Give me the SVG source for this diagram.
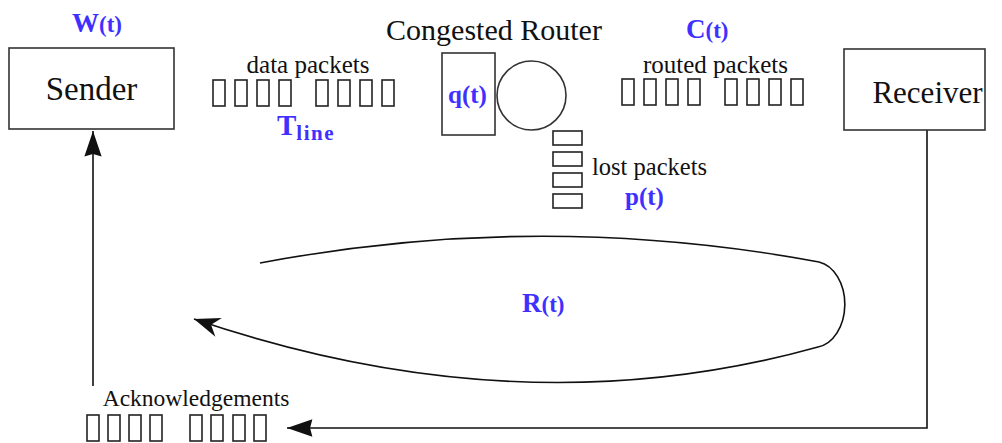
<svg xmlns="http://www.w3.org/2000/svg" xmlns:xlink="http://www.w3.org/1999/xlink" width="1002" height="443" viewBox="0 0 1002 443">
<style>
  .box{fill:#fff;stroke:#333;stroke-width:1.6}
  .tofu{fill:none;stroke:#222;stroke-width:1.6}
  .lbl{font-family:'Liberation Serif','Times New Roman','DejaVu Serif',serif;fill:#111}
  .var{font-family:'Liberation Serif','Times New Roman','DejaVu Serif',serif;font-weight:bold;fill:#4030ff}
  .line{fill:none;stroke:#111;stroke-width:1.6}
</style>
<defs>
  <rect id="t" class="tofu" x="0" y="0" width="12" height="26"/>
  <marker id="notch" markerUnits="userSpaceOnUse" markerWidth="30" markerHeight="30" viewBox="-27 -12 30 24" refX="0" refY="0" orient="auto">
    <path d="M0,0 L-26,-10 L-18,0 L-26,10 Z" fill="#111"/>
  </marker>
  <marker id="tri" markerUnits="userSpaceOnUse" markerWidth="30" markerHeight="30" viewBox="-24 -10 26 20" refX="0" refY="0" orient="auto">
    <path d="M0,0 L-22,-7.5 L-20,0 L-22,7.5 Z" fill="#111"/>
  </marker>
</defs>

<g id="connectors">
  <path class="line" d="M93,386 L93,131" marker-end="url(#tri)"/>
  <path class="line" d="M927,130 L927,428 L287,428" marker-end="url(#tri)"/>
  <path class="line" d="M260,263 Q540,210 819,262 A31 43 0 0 1 818,347 Q520,430 194,319" marker-end="url(#notch)"/>
</g>

<g id="sender">
  <rect class="box" x="9" y="48" width="165" height="81"/>
  <text class="lbl" x="91.5" y="100" font-size="33" text-anchor="middle">Sender</text>
  <text class="var" x="72" y="32"><tspan font-size="27">W</tspan><tspan font-size="23">(t)</tspan></text>
</g>

<g id="receiver">
  <rect class="box" x="844" y="49" width="141" height="81"/>
  <text class="lbl" x="927.5" y="103" font-size="31" text-anchor="middle">Receiver</text>
</g>

<g id="data-packets">
  <text class="lbl" x="308" y="73" font-size="25" text-anchor="middle">data packets</text>
  <use xlink:href="#t" x="213" y="80"/><use xlink:href="#t" x="235" y="80"/><use xlink:href="#t" x="257" y="80"/><use xlink:href="#t" x="279" y="80"/>
  <use xlink:href="#t" x="316" y="80"/><use xlink:href="#t" x="338" y="80"/><use xlink:href="#t" x="360" y="80"/><use xlink:href="#t" x="382" y="80"/>
  <text class="var" x="277" y="135"><tspan font-size="29">T</tspan><tspan font-size="21" dy="5" letter-spacing="1.5">line</tspan></text>
</g>

<g id="router">
  <text class="lbl" x="494" y="40" font-size="30" text-anchor="middle">Congested Router</text>
  <rect class="box" x="442" y="53" width="53" height="82"/>
  <text class="var" x="467.5" y="103" font-size="25" text-anchor="middle">q(t)</text>
  <circle class="box" cx="531.5" cy="95.5" r="34.5"/>
</g>

<g id="lost-packets">
  <rect class="tofu" x="553" y="131" width="29" height="14"/>
  <rect class="tofu" x="553" y="152" width="29" height="14"/>
  <rect class="tofu" x="553" y="173" width="29" height="14"/>
  <rect class="tofu" x="553" y="194" width="29" height="14"/>
  <text class="lbl" x="592" y="175" font-size="24.5">lost packets</text>
  <text class="var" x="625" y="205" font-size="25">p(t)</text>
</g>

<g id="routed-packets">
  <text class="var" x="686" y="38"><tspan font-size="27">C</tspan><tspan font-size="23">(t)</tspan></text>
  <text class="lbl" x="715.5" y="73" font-size="25" text-anchor="middle">routed packets</text>
  <use xlink:href="#t" x="622" y="79"/><use xlink:href="#t" x="644" y="79"/><use xlink:href="#t" x="666" y="79"/><use xlink:href="#t" x="688" y="79"/>
  <use xlink:href="#t" x="725" y="79"/><use xlink:href="#t" x="747" y="79"/><use xlink:href="#t" x="769" y="79"/><use xlink:href="#t" x="791" y="79"/>
</g>

<g id="rtt">
  <text class="var" x="522" y="312"><tspan font-size="27">R</tspan><tspan font-size="23">(t)</tspan></text>
</g>

<g id="acknowledgements">
  <text class="lbl" x="196" y="406" font-size="23.5" text-anchor="middle">Acknowledgements</text>
  <use xlink:href="#t" x="87" y="415"/><use xlink:href="#t" x="108" y="415"/><use xlink:href="#t" x="129" y="415"/><use xlink:href="#t" x="150" y="415"/>
  <use xlink:href="#t" x="190" y="415"/><use xlink:href="#t" x="211" y="415"/><use xlink:href="#t" x="233" y="415"/><use xlink:href="#t" x="254" y="415"/>
</g>
</svg>
